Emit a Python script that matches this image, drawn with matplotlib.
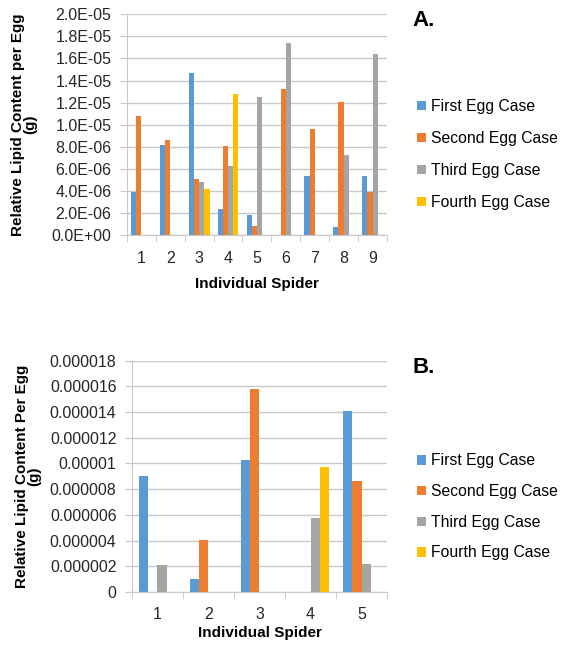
import numpy as np
import matplotlib.pyplot as plt
from matplotlib.patches import Patch
from matplotlib.ticker import FixedLocator

plt.rcParams['font.family'] = ['Liberation Sans', 'DejaVu Sans']

series = ["First Egg Case", "Second Egg Case", "Third Egg Case", "Fourth Egg Case"]
colors = ["#5B9BD5", "#ED7D31", "#A5A5A5", "#FFC000"]

# panel A: nine spiders, lipid per egg (g)
spiders_a = [1, 2, 3, 4, 5, 6, 7, 8, 9]
first_a  = [3.9e-6, 8.2e-6, 1.47e-5, 2.4e-6, 1.8e-6, 0, 5.4e-6, 0.7e-6, 5.4e-6]
second_a = [1.08e-5, 8.6e-6, 5.1e-6, 8.1e-6, 0.85e-6, 1.32e-5, 9.6e-6, 1.21e-5, 3.9e-6]
third_a  = [0, 0, 4.8e-6, 6.3e-6, 1.25e-5, 1.74e-5, 0, 7.3e-6, 1.64e-5]
fourth_a = [0, 0, 4.2e-6, 1.28e-5, 0, 0, 0, 0, 0]
yticks_a = [0, 2e-6, 4e-6, 6e-6, 8e-6, 1e-5, 1.2e-5, 1.4e-5, 1.6e-5, 1.8e-5, 2e-5]
ylabels_a = ["0.0E+00", "2.0E-06", "4.0E-06", "6.0E-06", "8.0E-06", "1.0E-05",
             "1.2E-05", "1.4E-05", "1.6E-05", "1.8E-05", "2.0E-05"]

# panel B: five spiders
spiders_b = [1, 2, 3, 4, 5]
first_b  = [9.0e-6, 1.0e-6, 1.03e-5, 0, 1.41e-5]
second_b = [0, 4.05e-6, 1.58e-5, 0, 8.6e-6]
third_b  = [2.1e-6, 0, 0, 5.75e-6, 2.2e-6]
fourth_b = [0, 0, 0, 9.7e-6, 0]
yticks_b = [0, 2e-6, 4e-6, 6e-6, 8e-6, 1e-5, 1.2e-5, 1.4e-5, 1.6e-5, 1.8e-5]
ylabels_b = ["0", "0.000002", "0.000004", "0.000006", "0.000008", "0.00001",
             "0.000012", "0.000014", "0.000016", "0.000018"]

grid_c = "#c8c8c8"
text_c = "#262626"


def draw_panel(ax, cats, data, yticks, ylabels, ylabel, label_x, xlab_pad):
    x = np.array(cats, dtype=float)
    w = 0.18
    for i, vals in enumerate(data):
        ax.bar(x + (i - 1.5) * w, vals, width=w, color=colors[i], linewidth=0, zorder=3)
    ax.set_xlim(0.5, len(cats) + 0.5)
    ax.set_ylim(yticks[0], yticks[-1])
    ax.set_yticks(yticks)
    ax.set_yticklabels(ylabels, fontsize=11.5, color=text_c)
    ax.set_xticks(x)
    ax.set_xticklabels([str(c) for c in cats], fontsize=11.5, color=text_c)
    ax.xaxis.set_minor_locator(FixedLocator(np.arange(0.5, len(cats) + 1, 1.0)))
    ax.tick_params(axis='x', which='major', length=0, pad=11)
    ax.tick_params(axis='x', which='minor', length=5, color=grid_c, direction='out')
    ax.tick_params(axis='y', length=5, color=grid_c, pad=6)
    ax.yaxis.grid(True, color=grid_c, linewidth=1, zorder=0)
    ax.set_axisbelow(True)
    for s in ["top", "right"]:
        ax.spines[s].set_visible(False)
    for s in ["left", "bottom"]:
        ax.spines[s].set_color(grid_c)
    ax.set_ylabel(ylabel, fontsize=11, fontweight='bold', linespacing=0.85)
    ax.yaxis.set_label_coords(label_x, 0.5)
    ax.set_xlabel("Individual Spider", fontsize=11, fontweight='bold', labelpad=xlab_pad)


fig = plt.figure(figsize=(5.61, 6.48), dpi=100)
ax1 = fig.add_axes([0.226, 0.637, 0.464, 0.341])
ax2 = fig.add_axes([0.235, 0.0864, 0.455, 0.357])

draw_panel(ax1, spiders_a, [first_a, second_a, third_a, fourth_a], yticks_a, ylabels_a,
           "Relative Lipid Content per Egg\n(g)", -0.345, 8)
draw_panel(ax2, spiders_b, [first_b, second_b, third_b, fourth_b], yticks_b, ylabels_b,
           "Relative Lipid Content Per Egg\n(g)", -0.355, 3)

handles = [Patch(facecolor=c, edgecolor='none') for c in colors]
for top, gap in ((0.857, 1.08), (0.31, 1.0)):
    fig.legend(handles, series, loc='upper left', bbox_to_anchor=(0.733, top),
               frameon=False, fontsize=11.3, handlelength=0.55, handleheight=0.55,
               handletextpad=0.3, labelspacing=gap, borderaxespad=0)

fig.text(0.735, 0.985, "A.", fontsize=16, fontweight='bold', va='top')
fig.text(0.735, 0.449, "B.", fontsize=16, fontweight='bold', va='top')

fig.savefig("out.png", dpi=100)
